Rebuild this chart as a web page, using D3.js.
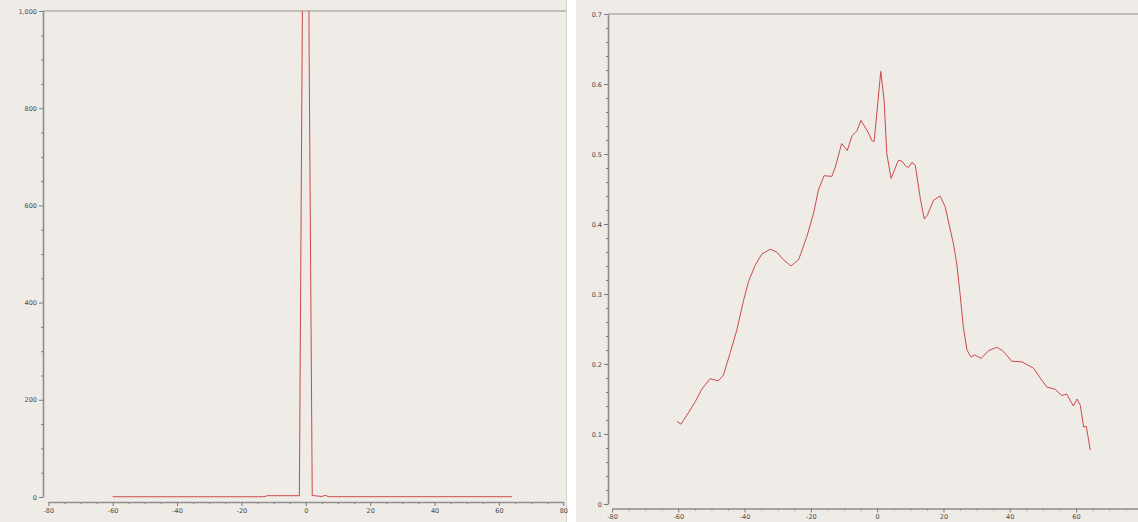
<!DOCTYPE html>
<html>
<head>
<meta charset="utf-8">
<script src="https://cdn.jsdelivr.net/npm/d3@7"></script>
<style>
  html, body { margin: 0; padding: 0; background: #ffffff; }
  svg { display: block; }
  .tick text { font-family: "DejaVu Sans", sans-serif; font-size: 6.5px; fill: #4a4a4a; }
</style>
</head>
<body>
<div id="chart"></div>
<script>
// Left panel data: narrow spike around 0 (clipped at 1,000)
const leftX = [-60, -13, -12, -2, -1, 0, 1, 2, 3, 5, 6, 7, 8, 64];
const leftY = [0.5, 0.5, 2.7, 2.7, 1070, 4000, 950, 3, 2.5, 1, 3.5, 1, 0.6, 0.6];

// Right panel data
const rightX = [-60.4, -59.2, -57.4, -54.9, -52.9, -50.4, -47.9, -46.4, -44.4, -42.3,
  -40.3, -38.8, -36.8, -34.8, -32.3, -30.3, -28.3, -26.0, -23.7, -21.2,
  -19.2, -17.7, -16.0, -13.7, -12.7, -10.7, -9.0, -7.6, -6.1, -4.9,
  -2.6, -1.6, -0.9, 1.1, 2.1, 2.9, 4.2, 6.4, 7.4, 8.8,
  9.5, 10.5, 11.5, 13.0, 14.2, 15.2, 17.0, 19.0, 20.5, 23.0,
  24.0, 25.0, 26.0, 27.1, 28.3, 29.4, 31.4, 33.6, 36.1, 38.1,
  40.6, 43.7, 47.2, 49.2, 51.2, 53.7, 55.7, 57.2, 59.2, 60.3,
  61.3, 62.3, 63.1, 64.3];
const rightY = [0.118, 0.114, 0.127, 0.146, 0.164, 0.179, 0.176, 0.184, 0.215, 0.249,
  0.291, 0.318, 0.341, 0.357, 0.364, 0.360, 0.349, 0.340, 0.349, 0.382,
  0.415, 0.449, 0.469, 0.468, 0.480, 0.515, 0.505, 0.526, 0.533, 0.548,
  0.530, 0.519, 0.518, 0.618, 0.577, 0.501, 0.465, 0.491, 0.490, 0.482,
  0.481, 0.488, 0.484, 0.437, 0.407, 0.413, 0.434, 0.440, 0.425, 0.372,
  0.344, 0.301, 0.253, 0.220, 0.210, 0.213, 0.208, 0.219, 0.224, 0.218,
  0.204, 0.203, 0.194, 0.180, 0.167, 0.164, 0.155, 0.157, 0.140, 0.150,
  0.141, 0.110, 0.111, 0.077];

// Tick values
const xTicks = [-80, -60, -40, -20, 0, 20, 40, 60, 80];
const leftYTicks = [0, 200, 400, 600, 800, 1000];
const rightYTicks = [0, 0.1, 0.2, 0.3, 0.4, 0.5, 0.6, 0.7];

const W = 1138, H = 522;
const bg = "#efebe7";
const lineColor = "#cc4a4a";

const svg = d3.select("#chart").append("svg")
    .attr("width", W)
    .attr("height", H);

// panel backgrounds and the white gap between them
svg.append("rect").attr("x", 0).attr("y", 0).attr("width", 567).attr("height", H).attr("fill", bg);
svg.append("rect").attr("x", 576).attr("y", 0).attr("width", W - 576).attr("height", H).attr("fill", bg);
svg.append("line").attr("x1", 566.5).attr("x2", 566.5).attr("y1", 0).attr("y2", H)
    .attr("stroke", "#d6d2ce").attr("stroke-width", 1);

function drawPanel(cfg, id) {
    const x = d3.scaleLinear().domain([-80, 80]).range([cfg.left, cfg.right]);
    const y = d3.scaleLinear().domain(cfg.yDomain).range([cfg.bottom, cfg.top]);

    const g = svg.append("g");

    // clip to the data area
    svg.append("clipPath").attr("id", id)
        .append("rect")
        .attr("x", cfg.left).attr("y", cfg.top)
        .attr("width", cfg.clipRight - cfg.left)
        .attr("height", cfg.bottom - cfg.top + 2);

    // top outline
    g.append("line")
        .attr("x1", cfg.axisX).attr("x2", cfg.clipRight)
        .attr("y1", cfg.top).attr("y2", cfg.top)
        .attr("stroke", "#b3b0ad").attr("stroke-width", 1.5);

    // series line
    const pts = cfg.xs.map((v, i) => [v, cfg.ys[i]]);
    g.append("path")
        .datum(pts)
        .attr("clip-path", `url(#${id})`)
        .attr("fill", "none")
        .attr("stroke", lineColor)
        .attr("stroke-width", 1)
        .attr("d", d3.line().x(d => x(d[0])).y(d => y(d[1])));

    // minor ticks
    const xMinor = d3.range(-80, 81, 5).filter(v => v % 20 !== 0 && x(v) < W);
    g.append("g")
        .attr("class", "minor")
        .attr("transform", `translate(0,${cfg.axisY})`)
        .call(d3.axisBottom(x).tickValues(xMinor).tickSize(2).tickFormat(""));

    const yMinor = d3.range(0, cfg.yDomain[1] + cfg.yMinorStep / 2, cfg.yMinorStep)
        .filter(v => Math.abs(v / cfg.yMajorStep - Math.round(v / cfg.yMajorStep)) > 1e-6);
    g.append("g")
        .attr("class", "minor")
        .attr("transform", `translate(${cfg.axisX},0)`)
        .call(d3.axisLeft(y).tickValues(yMinor).tickSize(2).tickFormat(""));

    // major axes (only ticks that fit inside the window)
    g.append("g")
        .attr("transform", `translate(0,${cfg.axisY})`)
        .call(d3.axisBottom(x).tickValues(xTicks.filter(v => x(v) < W - 2))
            .tickSize(4).tickSizeOuter(0).tickPadding(2)
            .tickFormat(d => String(d)));

    g.append("g")
        .attr("transform", `translate(${cfg.axisX},0)`)
        .call(d3.axisLeft(y).tickValues(cfg.yTicks).tickSize(4).tickSizeOuter(0).tickPadding(2)
            .tickFormat(cfg.yFormat));

    g.selectAll(".domain").attr("stroke", "#8e8e8e").attr("stroke-width", 1.6);
    g.selectAll(".tick line").attr("stroke", "#7a7a7a").attr("stroke-width", 1);
    g.selectAll(".minor .domain").remove();
}

// Left panel
drawPanel({
    left: 48.3, right: 563.3, clipRight: 566, top: 11, bottom: 497,
    axisX: 43, axisY: 502,
    yDomain: [0, 1000], yTicks: leftYTicks, yMajorStep: 200, yMinorStep: 50,
    yFormat: d3.format(","),
    xs: leftX, ys: leftY
}, "clipL");

// Right panel
drawPanel({
    left: 612, right: 1142.3, clipRight: W, top: 14, bottom: 504,
    axisX: 608, axisY: 508.5,
    yDomain: [0, 0.7], yTicks: rightYTicks, yMajorStep: 0.1, yMinorStep: 0.02,
    yFormat: d => d === 0 ? "0" : d.toFixed(1),
    xs: rightX, ys: rightY
}, "clipR");
</script>
</body>
</html>
